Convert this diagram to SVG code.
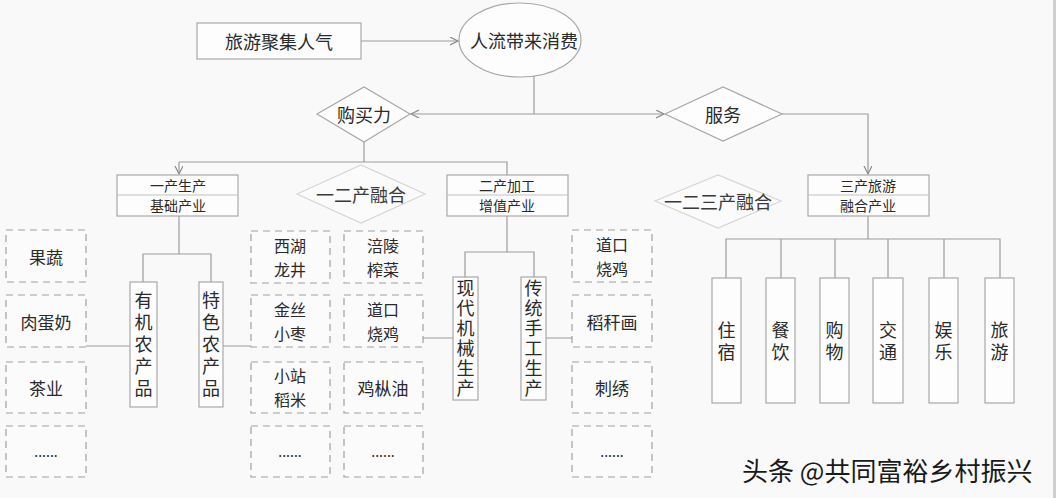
<svg xmlns="http://www.w3.org/2000/svg" width="1056" height="498" viewBox="0 0 1056 498">
<defs>
<style>
text{font-family:"Noto Sans CJK SC","Noto Sans",sans-serif;fill:#2a2a2a;dominant-baseline:central;text-anchor:middle}
.t18{font-size:18px}
.t17{font-size:17px}
.t16{font-size:16px}
.t14{font-size:14px}
.v{writing-mode:vertical-rl;text-orientation:upright;text-anchor:start;font-size:18px}
.v22{letter-spacing:4px}
.v20{letter-spacing:2px}
.solid{fill:#fdfdfd;stroke:#a8a8a8;stroke-width:1.2}
.dash{fill:#fbfbfb;stroke:#a0a0a0;stroke-width:1.2;stroke-dasharray:7,5}
.faded{fill:#fbfbfb;stroke:#d6d6d6;stroke-width:1.2}
.conn{fill:none;stroke:#9c9c9c;stroke-width:1.2}
.fadetext{fill:#3a3a3a}
</style>
<marker id="arr" markerWidth="10" markerHeight="10" refX="8" refY="4" orient="auto" markerUnits="userSpaceOnUse">
<path d="M0,0 L8,4 L0,8" fill="none" stroke="#8a8a8a" stroke-width="1.2"/>
</marker>
</defs>
<rect x="0" y="0" width="1056" height="498" fill="#f9f9f9"/>
<rect x="1053" y="0" width="3" height="498" fill="#cfcfcf"/>

<g id="connectors">
<path class="conn" d="M361,41 H458" marker-end="url(#arr)"/>
<path class="conn" d="M534,76 V114"/>
<path class="conn" d="M534,114 H411" marker-end="url(#arr)"/>
<path class="conn" d="M534,114 H664" marker-end="url(#arr)"/>
<path class="conn" d="M782,114 H868 V174" marker-end="url(#arr)"/>
<path class="conn" d="M364,142 V162 M179,162 H507 V175"/>
<path class="conn" d="M179,162 V174" marker-end="url(#arr)"/>
<path class="conn" d="M179,216 V254 M143,282 V254 H211 V282"/>
<path class="conn" d="M86,346 H130 M222,346 H251"/>
<path class="conn" d="M507,216 V252 M465,277 V252 H534 V277"/>
<path class="conn" d="M423,338 H453 M546,338 H572"/>
<path class="conn" d="M868,216 V239 M726,278 V239 H1000 V278 M781,239 V278 M835,239 V278 M888,239 V278 M944,239 V278"/>
</g>

<g id="n-lvyou-jiju">
<rect class="solid" x="197" y="23" width="164" height="36"/>
<text class="t18" x="279" y="41">旅游聚集人气</text>
</g>
<g id="n-renliu">
<ellipse class="solid" cx="520" cy="40" rx="61" ry="37"/>
<text class="t18" x="524" y="40">人流带来消费</text>
</g>
<g id="n-goumaili">
<polygon class="solid" points="317,114 364,87 410,114 364,142"/>
<text class="t18" x="364" y="114">购买力</text>
</g>
<g id="n-fuwu">
<polygon class="solid" points="665,114 723,87 782,114 723,141"/>
<text class="t18" x="723" y="114">服务</text>
</g>

<g id="n-yichan">
<rect x="117" y="175" width="121" height="20" fill="#c9d8d2"/>
<rect class="solid" x="117" y="175" width="121" height="41" fill="none"/>
<line x1="117" y1="195" x2="238" y2="195" stroke="#c0c0c0"/>
<text class="t14" x="178" y="185">一产生产</text>
<text class="t14" x="178" y="205">基础产业</text>
</g>
<g id="n-erchan">
<rect x="447" y="175" width="121" height="20" fill="#e5e6a2"/>
<rect class="solid" x="447" y="175" width="121" height="41" fill="none"/>
<line x1="447" y1="195" x2="568" y2="195" stroke="#c0c0c0"/>
<text class="t14" x="507" y="185">二产加工</text>
<text class="t14" x="507" y="205">增值产业</text>
</g>
<g id="n-sanchan">
<rect x="808" y="175" width="121" height="20" fill="#d5bb92"/>
<rect class="solid" x="808" y="175" width="121" height="41" fill="none"/>
<line x1="808" y1="195" x2="929" y2="195" stroke="#c0c0c0"/>
<text class="t14" x="868" y="185">三产旅游</text>
<text class="t14" x="868" y="205">融合产业</text>
</g>

<g id="n-yierchan-ronghe">
<polygon class="faded" points="297,194 361,165 425,194 361,223"/>
<text class="t18 fadetext" x="361" y="194">一二产融合</text>
</g>
<g id="n-yiersan-ronghe">
<polygon class="faded" points="655,201 718,175 781,201 718,228"/>
<text class="t18 fadetext" x="718" y="201">一二三产融合</text>
</g>

<g id="n-youji">
<rect class="solid" x="130" y="282" width="27" height="125"/>
<text class="v v22" x="143.5" y="291">有机农产品</text>
</g>
<g id="n-tese">
<rect class="solid" x="199" y="282" width="24" height="125"/>
<text class="v v22" x="211" y="291">特色农产品</text>
</g>
<g id="n-xiandai">
<rect class="solid" x="453" y="277" width="25" height="123"/>
<text class="v v20" x="465.5" y="279">现代机械生产</text>
</g>
<g id="n-chuantong">
<rect class="solid" x="521" y="277" width="25" height="123"/>
<text class="v v20" x="533.5" y="279">传统手工生产</text>
</g>

<g id="n-guoshu"><rect class="dash" x="6" y="230" width="80" height="52"/><text class="t17" x="46" y="256">果蔬</text></g>
<g id="n-roudannai"><rect class="dash" x="6" y="295" width="80" height="52"/><text class="t17" x="46" y="321">肉蛋奶</text></g>
<g id="n-chaye"><rect class="dash" x="6" y="362" width="80" height="51"/><text class="t17" x="46" y="387">茶业</text></g>
<g id="n-etc1"><rect class="dash" x="6" y="426" width="80" height="51"/><text class="t14" x="46" y="451">......</text></g>

<g id="n-xihu"><rect class="dash" x="251" y="231" width="79" height="52"/><text class="t16" x="290" y="245">西湖</text><text class="t16" x="290" y="269">龙井</text></g>
<g id="n-jinsi"><rect class="dash" x="251" y="295" width="79" height="52"/><text class="t16" x="290" y="309">金丝</text><text class="t16" x="290" y="333">小枣</text></g>
<g id="n-xiaozhan"><rect class="dash" x="251" y="362" width="79" height="51"/><text class="t16" x="290" y="375">小站</text><text class="t16" x="290" y="399">稻米</text></g>
<g id="n-etc2"><rect class="dash" x="251" y="426" width="79" height="51"/><text class="t14" x="290" y="451">......</text></g>

<g id="n-fuling"><rect class="dash" x="344" y="231" width="79" height="52"/><text class="t16" x="383" y="245">涪陵</text><text class="t16" x="383" y="269">榨菜</text></g>
<g id="n-daokou1"><rect class="dash" x="344" y="295" width="79" height="52"/><text class="t16" x="383" y="309">道口</text><text class="t16" x="383" y="333">烧鸡</text></g>
<g id="n-jicongyou"><rect class="dash" x="344" y="362" width="79" height="51"/><text class="t17" x="383" y="387">鸡枞油</text></g>
<g id="n-etc3"><rect class="dash" x="344" y="426" width="79" height="51"/><text class="t14" x="383" y="451">......</text></g>

<g id="n-daokou2"><rect class="dash" x="572" y="230" width="80" height="52"/><text class="t16" x="612" y="244">道口</text><text class="t16" x="612" y="268">烧鸡</text></g>
<g id="n-daoganhua"><rect class="dash" x="572" y="295" width="80" height="52"/><text class="t17" x="612" y="321">稻秆画</text></g>
<g id="n-cixiu"><rect class="dash" x="572" y="362" width="80" height="51"/><text class="t17" x="612" y="387">刺绣</text></g>
<g id="n-etc4"><rect class="dash" x="572" y="426" width="80" height="51"/><text class="t14" x="612" y="451">......</text></g>

<g id="n-zhusu"><rect class="solid" x="712" y="278" width="29" height="125"/><text class="v v22" x="726.5" y="321">住宿</text></g>
<g id="n-canyin"><rect class="solid" x="766" y="278" width="29" height="125"/><text class="v v22" x="780.5" y="321">餐饮</text></g>
<g id="n-gouwu"><rect class="solid" x="820" y="278" width="29" height="125"/><text class="v v22" x="834.5" y="321">购物</text></g>
<g id="n-jiaotong"><rect class="solid" x="873" y="278" width="30" height="125"/><text class="v v22" x="888" y="321">交通</text></g>
<g id="n-yule"><rect class="solid" x="929" y="278" width="29" height="125"/><text class="v v22" x="943.5" y="321">娱乐</text></g>
<g id="n-lvyou"><rect class="solid" x="985" y="278" width="29" height="125"/><text class="v v22" x="999.5" y="321">旅游</text></g>

<text x="742" y="469" style="font-size:26px;text-anchor:start;fill:#1a1a1a">头条 @共同富裕乡村振兴</text>
</svg>
